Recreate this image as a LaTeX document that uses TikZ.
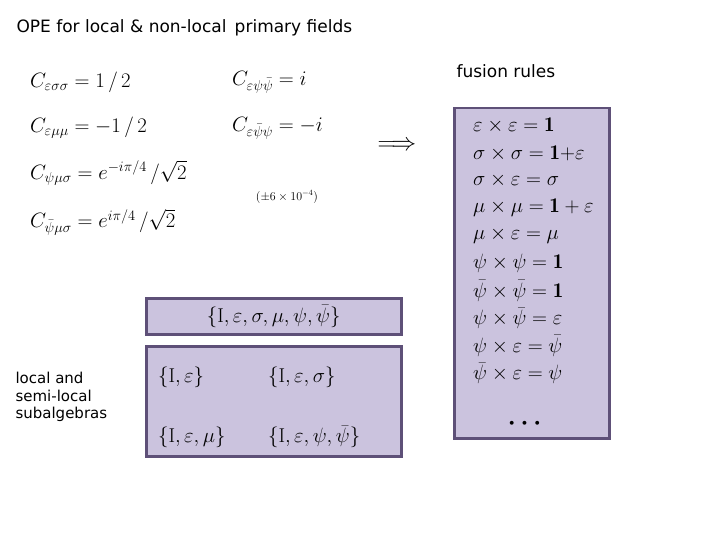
\documentclass[tikz,border=0pt]{standalone}
\usepackage{fontspec}
\usepackage{amsmath}
\newfontfamily\titlefont{DejaVu Sans}
\definecolor{boxfill}{HTML}{CBC3DE}
\definecolor{boxline}{HTML}{5E5078}
\begin{document}
\begin{tikzpicture}[x=1pt,y=-1pt,
  box/.style={draw=boxline,line width=2.5pt,fill=boxfill},
  lbl/.style={font=\titlefont\fontsize{17}{20}\selectfont,anchor=west},
  eq/.style={font=\fontsize{20}{24}\selectfont,anchor=west,inner sep=0pt},
  fz/.style={font=\fontsize{21}{24}\selectfont,anchor=west,inner sep=0pt}]
\useasboundingbox (0,0) rectangle (720,540);
\node[lbl] (title) at (13,28) {OPE for local \& non-local\, primary fields};
\node[lbl] (fr) at (453,71) {fusion rules};
\node[lbl,align=left,font=\titlefont\fontsize{15}{17.5}\selectfont] (loc) at (12,397) {local and\\semi-local\\subalgebras};
\node[eq] (e1) at (30,82) {$C_{\varepsilon\sigma\sigma}=1\,/\,2$};
\node[eq] (e2) at (30,128) {$C_{\varepsilon\mu\mu}=-1\,/\,2$};
\node[eq] (e3) at (30,173) {$C_{\psi\mu\sigma}=e^{-i\pi/4}\,/\sqrt{2}$};
\node[eq] (e4) at (30,222) {$C_{\bar\psi\mu\sigma}=e^{i\pi/4}\,/\sqrt{2}$};
\node[eq] (e5) at (232,82) {$C_{\varepsilon\psi\bar\psi}=i$};
\node[eq] (e6) at (232,128) {$C_{\varepsilon\bar\psi\psi}=-i$};
\node[font=\fontsize{12}{14}\selectfont] (err) at (287,197) {$(\pm6\times10^{-4})$};
\node[font=\fontsize{24}{26}\selectfont] (arr) at (397,146) {$\Longrightarrow$};
\node[box,minimum width=155,minimum height=330,anchor=north west] (fbox) at (453,107) {};
\foreach \t [count=\i] in {{\varepsilon\times\varepsilon=\mathbf{1}},{\sigma\times\sigma=\mathbf{1}{+}\varepsilon},{\sigma\times\varepsilon=\sigma},{\mu\times\mu=\mathbf{1}+\varepsilon},{\mu\times\varepsilon=\mu},{\psi\times\psi=\mathbf{1}},{\bar\psi\times\bar\psi=\mathbf{1}},{\psi\times\bar\psi=\varepsilon},{\psi\times\varepsilon=\bar\psi},{\bar\psi\times\varepsilon=\psi}}
  \node[fz] (f\i) at (473,{98+27.5*\i}) {$\t$};
\node[font=\fontsize{24}{24}\selectfont] (dots) at (527,424) {$\boldsymbol{\cdots}$};
\node[box,minimum width=255,minimum height=36,anchor=north west] (b1) at (145,297) {};
\node[eq,anchor=center] (s0) at (b1.center) {$\{\mathrm{I},\varepsilon,\sigma,\mu,\psi,\bar\psi\}$};
\node[box,minimum width=255,minimum height=110,anchor=north west] (b2) at (145,345) {};
\node[eq] (s1) at (158,377) {$\{\mathrm{I},\varepsilon\}$};
\node[eq] (s2) at (268,377) {$\{\mathrm{I},\varepsilon,\sigma\}$};
\node[eq] (s3) at (158,437) {$\{\mathrm{I},\varepsilon,\mu\}$};
\node[eq] (s4) at (268,437) {$\{\mathrm{I},\varepsilon,\psi,\bar\psi\}$};
\end{tikzpicture}
\end{document}
